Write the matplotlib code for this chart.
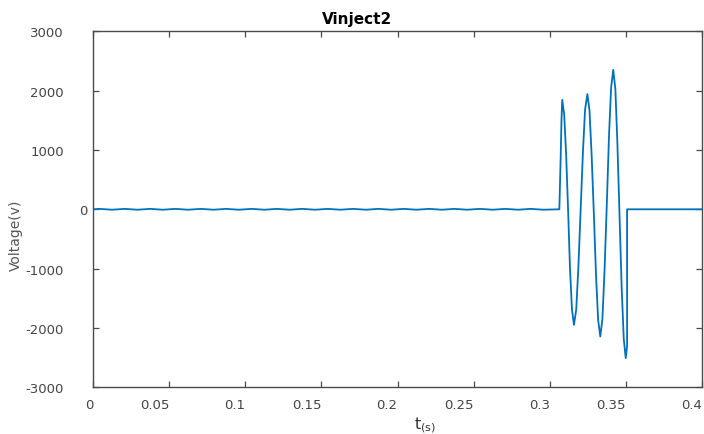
import matplotlib
matplotlib.use("Agg")
import matplotlib.pyplot as plt
from matplotlib.transforms import ScaledTranslation
import numpy as np

# ---- data ----
ripple_t = [0.0, 0.0042, 0.0125, 0.0208, 0.0292, 0.0375, 0.0458, 0.0542, 0.0625,
            0.0708, 0.0792, 0.0875, 0.0958, 0.1042, 0.1125, 0.1208, 0.1292,
            0.1375, 0.1458, 0.1542, 0.1625, 0.1708, 0.1792, 0.1875, 0.1958,
            0.2042, 0.2125, 0.2208, 0.2292, 0.2375, 0.2458, 0.2542, 0.2625,
            0.2708, 0.2792, 0.2875, 0.2958, 0.3063]
ripple_v = [0, 7, -7, 7, -7, 7, -7, 7, -7,
            7, -7, 7, -7, 7, -7, 7, -7,
            7, -7, 7, -7, 7, -7, 7, -7,
            7, -7, 7, -7, 7, -7, 7, -7,
            7, -7, 7, -7, 0]

burst_t = [0.3063, 0.3072, 0.3077, 0.3082,
           0.3095, 0.3108, 0.3121, 0.3133, 0.3146, 0.3159,
           0.3174, 0.3188, 0.3203, 0.3218, 0.3232, 0.3247,
           0.3261, 0.3275, 0.3290, 0.3304, 0.3318, 0.3332,
           0.3346, 0.3360, 0.3375, 0.3389, 0.3403, 0.3417,
           0.3431, 0.3444, 0.3458, 0.3472, 0.3486, 0.3499,
           0.3508, 0.3508]
burst_v = [0, 900, 1500, 1846,
           1592, 898, -50, -999, -1693, -1947,
           -1686, -975, -3, 970, 1681, 1942,
           1668, 921, -101, -1123, -1870, -2144,
           -1843, -1020, 104, 1227, 2050, 2351,
           2025, 1136, -79, -1293, -2182, -2508,
           -2300, 0]

tail_t = [0.3508, 0.4]
tail_v = [0, 0]

x_ticks = [0, 0.05, 0.1, 0.15, 0.2, 0.25, 0.3, 0.35, 0.4]
x_labels = ["0", "0.05", "0.1", "0.15", "0.2", "0.25", "0.3", "0.35", "0.4"]
y_ticks = [-3000, -2000, -1000, 0, 1000, 2000, 3000]
y_labels = ["-3000", "-2000", "-1000", "0", "1000", "2000", "3000"]

t = np.concatenate([ripple_t, burst_t, tail_t])
v = np.concatenate([ripple_v, burst_v, tail_v])

plt.rcParams['font.family'] = ['DejaVu Sans']
plt.rcParams['mathtext.fontset'] = 'dejavusans'

fig = plt.figure(figsize=(7.04, 4.35), dpi=100)
ax = fig.add_axes([93/704, 1 - 388.3/435, 609/704, (388.3 - 32.3)/435])

ax.plot(t, v, color='#0072BD', linewidth=1.3)

ax.set_xlim(0, 0.4)
ax.set_ylim(-3000, 3000)

axis_col = '#4a4a4a'
text_col = '#444444'
for s in ax.spines.values():
    s.set_color(axis_col)
    s.set_linewidth(1.0)

ax.set_xticks(x_ticks)
ax.set_xticklabels(x_labels, ha='right')
ax.set_yticks(y_ticks)
ax.set_yticklabels(y_labels)
ax.tick_params(direction='in', length=4, width=0.9, color=axis_col,
               labelcolor=text_col, labelsize=9.5, top=True, right=True)
ax.tick_params(axis='y', pad=21)
ax.tick_params(axis='x', pad=7.5)

# shift the "0" y label to the right like the reference
for lab in ax.get_yticklabels():
    if lab.get_text() == "0":
        lab.set_transform(lab.get_transform() + ScaledTranslation(24/100, 0, fig.dpi_scale_trans))

ax.set_title('Vinject2', fontsize=11, fontweight='bold', x=0.433, pad=6, color='black')

ax.set_ylabel('Voltage(v)', fontsize=10, color='#555555')
ax.yaxis.set_label_coords(-(93 - 23) / 609, (388.3 - 235) / 356)

ax.set_xlabel(r't$_{\mathrm{(s)}}$', fontsize=11.5, color='#333333')
ax.xaxis.set_label_coords((425 - 93) / 609, -(415 - 388.3) / 356)

fig.savefig('out.png', dpi=100)
